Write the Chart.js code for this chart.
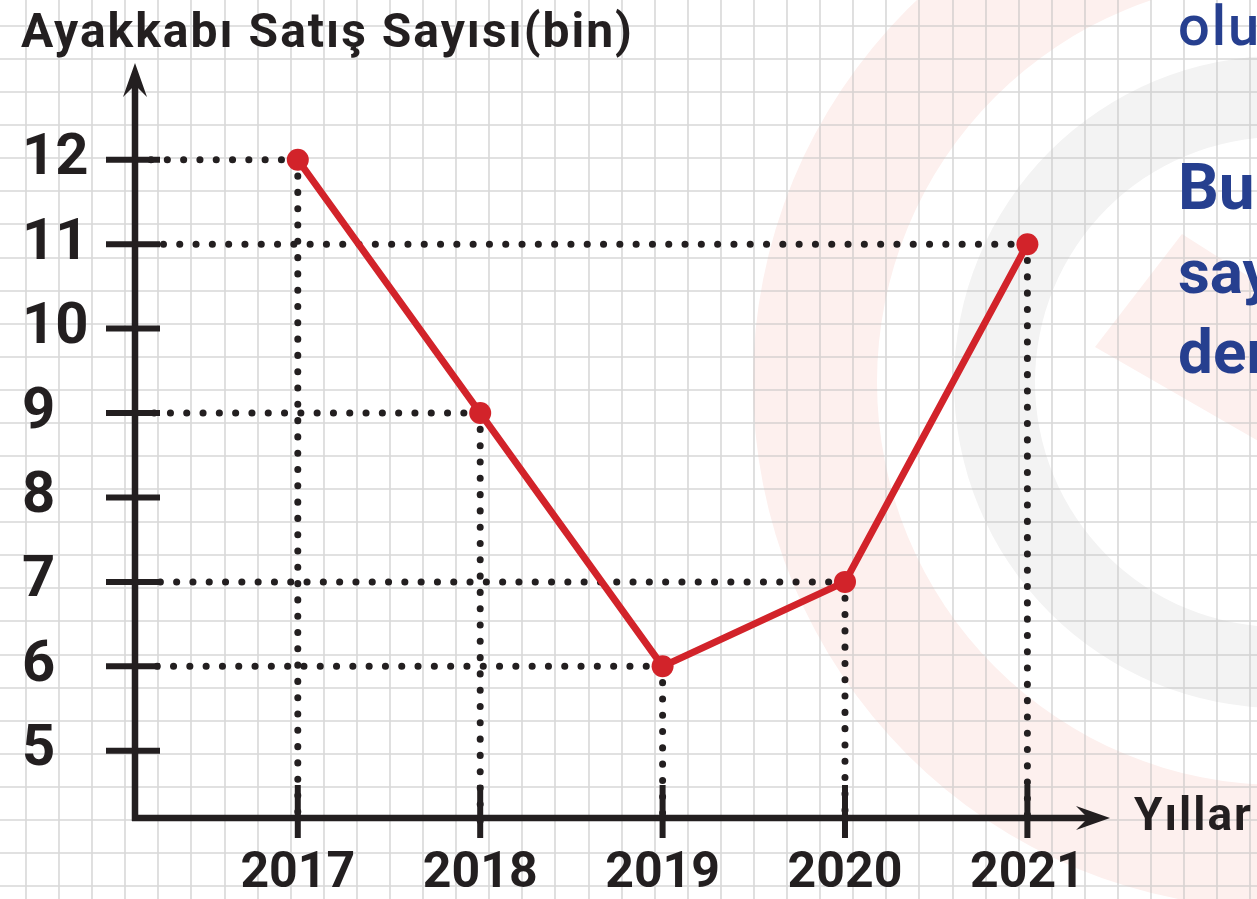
<!DOCTYPE html>
<html>
<head>
<meta charset="utf-8">
<script src="https://cdn.jsdelivr.net/npm/chart.js@4.4.1/dist/chart.umd.min.js"></script>
<style>
  html, body { margin: 0; padding: 0; background: #fff; overflow: hidden; }
  #wrap { position: relative; width: 1257px; height: 899px; }
  #c { position: absolute; left: 0; top: 0; }
  .txt { position: absolute; font-family: Roboto, sans-serif; white-space: nowrap; line-height: 1; }
  .ink { color: #231f20; font-weight: 700; }
  .blue { color: #263f8f; font-weight: 700; }
</style>
</head>
<body>
<div id="wrap">
  <canvas id="c" width="1257" height="899"></canvas>
  <div class="txt ink" style="left:21px; top:7px; font-size:48px; letter-spacing:2px;">Ayakkabı Satış Sayısı(bin)</div>
  <div class="txt ink" style="left:1134px; top:791px; font-size:46px; letter-spacing:2px;">Yıllar</div>
  <div class="txt blue" style="left:1178px; top:-2px; font-size:56px; font-weight:500; letter-spacing:2px;">olu</div>
  <div class="txt blue" style="left:1178px; top:156px; font-size:64px;">Bu</div>
  <div class="txt blue" style="left:1178px; top:241px; font-size:62px;">say</div>
  <div class="txt blue" style="left:1178px; top:321px; font-size:62px;">der</div>
</div>
<script>
// values
const years = [2017, 2018, 2019, 2020, 2021];
const sales = [12, 9, 6, 7, 11];
const yTicks = [5, 6, 7, 8, 9, 10, 11, 12];

const ink = '#231f20';
const red = '#d2232a';
const W = 1257, H = 899;

// squared paper + faint logo behind everything
const paper = {
  id: 'paper',
  beforeDraw(chart) {
    const ctx = chart.ctx;
    ctx.save();
    ctx.fillStyle = '#fff';
    ctx.fillRect(0, 0, W, H);

    ctx.fillStyle = '#fdf0ee';
    ctx.beginPath();
    ctx.arc(1280, 382, 527, 0, Math.PI * 2);
    ctx.arc(1280, 382, 403, 0, Math.PI * 2, true);
    ctx.fill();
    ctx.beginPath();
    ctx.moveTo(1095, 347);
    ctx.lineTo(1182, 234);
    ctx.lineTo(1262, 285);
    ctx.lineTo(1262, 443);
    ctx.closePath();
    ctx.fill();

    ctx.fillStyle = '#f3f3f3';
    ctx.beginPath();
    ctx.arc(1280, 382, 326, 0, Math.PI * 2);
    ctx.arc(1280, 382, 245, 0, Math.PI * 2, true);
    ctx.fill();

    ctx.strokeStyle = 'rgba(190,190,190,0.6)';
    ctx.lineWidth = 1.6;
    ctx.beginPath();
    for (let gx = 26; gx < W; gx += 33.09) {
      ctx.moveTo(Math.round(gx), 0);
      ctx.lineTo(Math.round(gx), H);
    }
    for (let gy = 26; gy < H; gy += 33.08) {
      ctx.moveTo(0, Math.round(gy));
      ctx.lineTo(W, Math.round(gy));
    }
    ctx.stroke();
    ctx.restore();
  }
};

function arrowHead(ctx, tx, ty, dx, dy) {
  // barbed arrow head, tip at (tx,ty), pointing along (dx,dy)
  const nx = -dy, ny = dx;
  ctx.beginPath();
  ctx.moveTo(tx, ty);
  ctx.lineTo(tx - dx * 34 + nx * 12, ty - dy * 34 + ny * 12);
  ctx.lineTo(tx - dx * 22, ty - dy * 22);
  ctx.lineTo(tx - dx * 34 - nx * 12, ty - dy * 34 - ny * 12);
  ctx.closePath();
  ctx.fill();
}

// axes, tick marks and dotted guide lines
const guides = {
  id: 'guides',
  beforeDatasetsDraw(chart) {
    const { ctx, chartArea: a } = chart;
    const xs = chart.scales.x, ys = chart.scales.y;
    ctx.save();
    ctx.strokeStyle = ink;
    ctx.fillStyle = ink;

    // dotted lines
    ctx.lineWidth = 7;
    ctx.lineCap = 'round';
    ctx.setLineDash([0.1, 16.2]);
    years.forEach((yr, i) => {
      const px = xs.getPixelForValue(yr);
      const py = ys.getPixelForValue(sales[i]);
      ctx.beginPath();
      ctx.moveTo(px, py);
      ctx.lineTo(a.left + 14, py);
      ctx.stroke();
      ctx.beginPath();
      ctx.moveTo(px, py);
      ctx.lineTo(px, a.bottom + 8);
      ctx.stroke();
    });
    ctx.setLineDash([]);
    ctx.lineCap = 'butt';

    // axes
    ctx.lineWidth = 6.5;
    ctx.beginPath();
    ctx.moveTo(a.left, a.bottom + 3);
    ctx.lineTo(a.left, a.top + 20);
    ctx.moveTo(a.left - 3, a.bottom);
    ctx.lineTo(a.right - 20, a.bottom);
    ctx.stroke();
    arrowHead(ctx, a.left, a.top, 0, -1);
    arrowHead(ctx, a.right, a.bottom, 1, 0);

    // tick marks
    ctx.lineWidth = 6;
    ctx.beginPath();
    yTicks.forEach(v => {
      const py = ys.getPixelForValue(v);
      ctx.moveTo(a.left - 29, py);
      ctx.lineTo(a.left + 25, py);
    });
    years.forEach(yr => {
      const px = xs.getPixelForValue(yr);
      ctx.moveTo(px, a.bottom - 33);
      ctx.lineTo(px, a.bottom + 20);
    });
    ctx.stroke();
    ctx.restore();
  }
};

const points = years.map((yr, i) => ({ x: yr, y: sales[i] }));

new Chart(document.getElementById('c'), {
  type: 'line',
  data: {
    datasets: [{
      data: points,
      borderColor: red,
      borderWidth: 7,
      backgroundColor: red,
      pointBackgroundColor: red,
      pointBorderWidth: 0,
      pointRadius: 11,
      tension: 0,
      clip: false
    }]
  },
  options: {
    responsive: false,
    animation: false,
    events: [],
    layout: { padding: { left: 22, top: 63, right: 147, bottom: 0 } },
    plugins: { legend: { display: false }, tooltip: { enabled: false } },
    scales: {
      x: {
        type: 'linear',
        min: 2016.1075,
        max: 2021.4529,
        afterBuildTicks: s => { s.ticks = years.map(v => ({ value: v })); },
        afterFit: s => { s.height = 81; },
        border: { display: false },
        grid: { display: false, drawTicks: false },
        ticks: {
          color: ink,
          padding: 26,
          maxRotation: 0,
          autoSkip: false,
          font: { family: 'Roboto', size: 50, weight: 'bold' },
          callback: v => String(v)
        }
      },
      y: {
        min: 4.2035,
        max: 13.146,
        afterBuildTicks: s => { s.ticks = yTicks.map(v => ({ value: v })); },
        afterFit: s => { s.width = 113; },
        border: { display: false },
        grid: { display: false, drawTicks: false },
        ticks: {
          color: ink,
          crossAlign: 'far',
          font: { family: 'Roboto', size: 58, weight: 'bold' },
          callback: v => String(v)
        }
      }
    }
  },
  plugins: [paper, guides]
});
</script>
</body>
</html>
